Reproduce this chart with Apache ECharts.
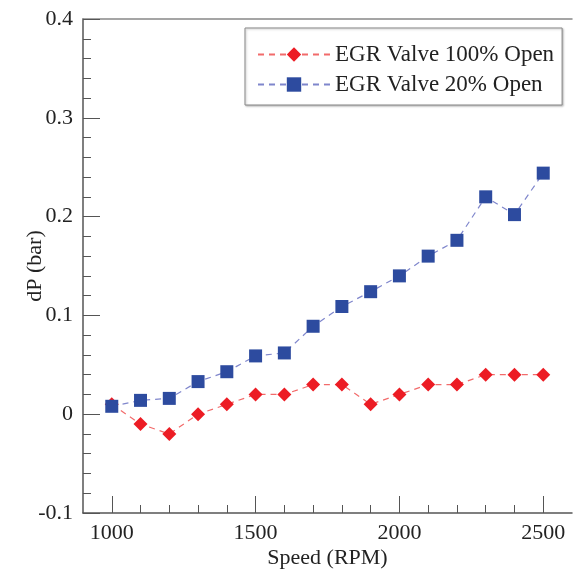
<!DOCTYPE html>
<html>
<head>
<meta charset="utf-8">
<script src="https://cdn.jsdelivr.net/npm/echarts@6/dist/echarts.min.js"></script>
<style>
  html, body { margin: 0; padding: 0; background: #fff; }
  #chart { width: 577px; height: 574px; }
</style>
</head>
<body>
<div id="chart"></div>
<script>
const speeds = [1000, 1100, 1200, 1300, 1400, 1500, 1600, 1700, 1800, 1900, 2000, 2100, 2200, 2300, 2400, 2500];
const open100 = [0.01, -0.01, -0.02, 0, 0.01, 0.02, 0.02, 0.03, 0.03, 0.01, 0.02, 0.03, 0.03, 0.04, 0.04, 0.04];
const open20 = [0.008, 0.014, 0.016, 0.033, 0.043, 0.059, 0.062, 0.089, 0.109, 0.124, 0.140, 0.160, 0.176, 0.220, 0.202, 0.244];
const xMajorTicks = [1000, 1500, 2000, 2500];
const xMinorTicks = [1100, 1200, 1300, 1400, 1600, 1700, 1800, 1900, 2100, 2200, 2300, 2400];
const yMinorTicks = [-0.08, -0.06, -0.04, -0.02, 0.02, 0.04, 0.06, 0.08, 0.12, 0.14, 0.16, 0.18,
  0.22, 0.24, 0.26, 0.28, 0.32, 0.34, 0.36, 0.38];

const font = 'Liberation Serif';
const axisColor = '#555';

const chart = echarts.init(document.getElementById('chart'));

const option = {
  backgroundColor: '#fff',
  animation: false,
  textStyle: { fontFamily: font },
  grid: { left: 83, right: 5, top: 19, bottom: 59 },
  legend: {
    left: 245,
    top: 28,
    orient: 'vertical',
    data: ['EGR Valve 100% Open', 'EGR Valve 20% Open'],
    itemWidth: 72,
    itemHeight: 18,
    itemGap: 7,
    padding: [15, 8, 9, 12],
    borderColor: '#888',
    borderWidth: 1,
    backgroundColor: '#fff',
    shadowColor: 'rgba(0,0,0,0.25)',
    shadowOffsetX: 1,
    shadowOffsetY: 1,
    shadowBlur: 2,
    textStyle: { fontFamily: font, fontSize: 23, color: '#222' }
  },
  xAxis: [{
    type: 'value',
    min: 900,
    max: 2600,
    name: 'Speed (RPM)',
    nameLocation: 'middle',
    nameGap: 34,
    nameMoveOverlap: false,
    nameTextStyle: { fontFamily: font, fontSize: 22, color: '#222' },
    splitLine: { show: false },
    axisLine: { show: true, onZero: false, lineStyle: { color: axisColor, width: 1.5 } },
    axisTick: { show: true, inside: true, length: 17, customValues: xMajorTicks, lineStyle: { color: axisColor } },
    axisLabel: { customValues: xMajorTicks, margin: 9, formatter: v => String(v), fontFamily: font, fontSize: 22, color: '#222' }
  }, {
    type: 'value',
    min: 900,
    max: 2600,
    position: 'bottom',
    splitLine: { show: false },
    axisLine: { show: false, onZero: false },
    axisTick: { show: true, inside: true, length: 8, customValues: xMinorTicks, lineStyle: { color: axisColor } },
    axisLabel: { show: false }
  }, {
    type: 'value',
    min: 900,
    max: 2600,
    position: 'top',
    splitLine: { show: false },
    axisLine: { show: true, onZero: false, lineStyle: { color: '#888', width: 1.5 } },
    axisTick: { show: false },
    axisLabel: { show: false }
  }],
  yAxis: [{
    type: 'value',
    min: -0.1,
    max: 0.4,
    interval: 0.1,
    name: 'dP (bar)',
    nameLocation: 'middle',
    nameGap: 37,
    nameMoveOverlap: false,
    nameTextStyle: { fontFamily: font, fontSize: 22, color: '#222' },
    splitLine: { show: false },
    axisLine: { show: true, onZero: false, lineStyle: { color: axisColor, width: 1.5 } },
    axisTick: { show: true, inside: true, length: 17, lineStyle: { color: axisColor } },
    axisLabel: { margin: 10, fontFamily: font, fontSize: 22, color: '#222' }
  }, {
    type: 'value',
    min: -0.1,
    max: 0.4,
    position: 'left',
    splitLine: { show: false },
    axisLine: { show: false, onZero: false },
    axisTick: { show: true, inside: true, length: 8, customValues: yMinorTicks, lineStyle: { color: axisColor } },
    axisLabel: { show: false }
  }],
  series: [{
    name: 'EGR Valve 100% Open',
    type: 'line',
    data: speeds.map((s, i) => [s, open100[i]]),
    symbol: 'diamond',
    symbolSize: 14,
    itemStyle: { color: '#ec1c24' },
    lineStyle: { color: '#f26b6b', width: 1.2, type: [6, 5] },
    z: 3
  }, {
    name: 'EGR Valve 20% Open',
    type: 'line',
    data: speeds.map((s, i) => [s, open20[i]]),
    symbol: 'rect',
    symbolSize: 13,
    itemStyle: { color: '#2d4b9f' },
    lineStyle: { color: '#7f86cc', width: 1.2, type: [6, 5] },
    z: 4
  }]
};

chart.setOption(option);
</script>
</body>
</html>
